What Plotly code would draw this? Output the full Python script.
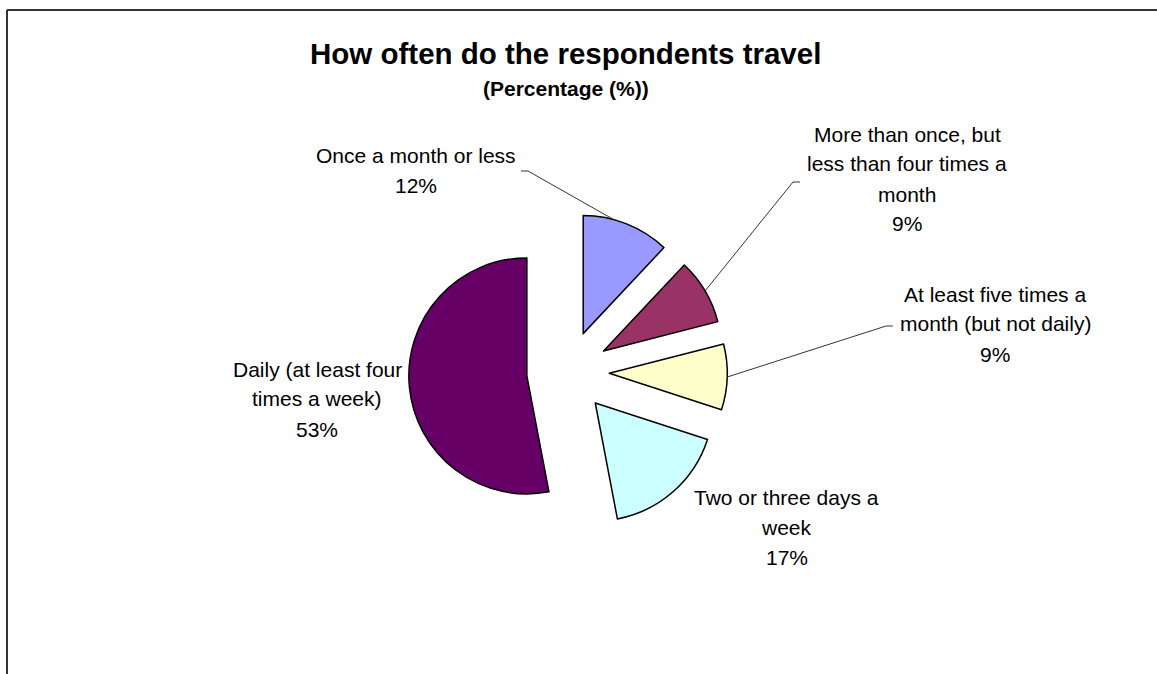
import math
import plotly.graph_objects as go

# Survey answers, in clockwise order starting at 12 o'clock
categories = [
    "Once a month or less",
    "More than once, but less than four times a month",
    "At least five times a month (but not daily)",
    "Two or three days a week",
    "Daily (at least four times a week)",
]
shares = [12, 9, 9, 17, 53]

# Wrapped label text for each slice
label_lines = [
    ["Once a month or less"],
    ["More than once, but", "less than four times a", "month"],
    ["At least five times a", "month (but not daily)"],
    ["Two or three days a", "week"],
    ["Daily (at least four", "times a week)"],
]
colors = ["#9999FF", "#993366", "#FFFFCC", "#CCFFFF", "#660066"]

W, H = 1157, 674
PULL = 0.35
DOM_X = [0.3532, 0.6286]
DOM_Y = [0.2117, 0.6844]
FONT = "Liberation Sans, Arial, sans-serif"
LINE_PITCH = 30

fig = go.Figure(
    go.Pie(
        labels=categories,
        values=shares,
        sort=False,
        direction="clockwise",
        rotation=0,
        pull=PULL,
        textinfo="none",
        hoverinfo="label+percent",
        marker=dict(colors=colors, line=dict(color="black", width=1.5)),
        domain=dict(x=DOM_X, y=DOM_Y),
        showlegend=False,
    )
)

# Pie geometry in pixels (same rule plotly.js uses to size a pulled pie)
box_w = W * (DOM_X[1] - DOM_X[0])
box_h = H * (DOM_Y[1] - DOM_Y[0])
cx = W * (DOM_X[0] + DOM_X[1]) / 2
cy = H * (1 - (DOM_Y[0] + DOM_Y[1]) / 2)
radius = min(box_w, box_h) / 2 / (1 + PULL)


def px_to_paper(x, y):
    return x / W, 1 - y / H


def polar(angle_deg, dist, ox, oy):
    a = math.radians(angle_deg)
    return ox + dist * math.sin(a), oy - dist * math.cos(a)


total = sum(shares)
starts, spans = [], []
acc = 0.0
for v in shares:
    starts.append(acc / total * 360)
    spans.append(v / total * 360)
    acc += v

# Label placement: centre x and centre y of the first text line, in pixels
label_pos = [(416, 155), (907, 134), (995, 294), (787, 497), (317, 369)]
# Leader lines: (fraction along the slice arc, elbow point, label end)
leaders = {
    0: (0.35, (528, 171), (521, 171)),
    1: (0.5, (793, 182), (800, 182)),
    2: (0.5, (886, 326), (893, 326)),
}

annotations = []
shapes = []
for i, (lines, v) in enumerate(zip(label_lines, shares)):
    lx, ly = label_pos[i]
    for k, line in enumerate(lines + [f"{v}%"]):
        px, py = px_to_paper(lx, ly + k * LINE_PITCH)
        annotations.append(
            dict(
                text=line, x=px, y=py, xref="paper", yref="paper",
                xanchor="center", yanchor="middle", showarrow=False,
                font=dict(family=FONT, size=21, color="black"),
            )
        )
    if i in leaders:
        frac, elbow, end = leaders[i]
        mid = starts[i] + spans[i] / 2
        ax, ay = polar(mid, PULL * radius, cx, cy)
        tx, ty = polar(starts[i] + spans[i] * frac, radius, ax, ay)
        pts = [px_to_paper(tx, ty), px_to_paper(*elbow), px_to_paper(*end)]
        path = "M {} {} L {} {} L {} {}".format(*[c for p in pts for c in p])
        shapes.append(
            dict(type="path", path=path, xref="paper", yref="paper",
                 line=dict(color="#333333", width=1))
        )

# Chart titles
tx, ty = px_to_paper(565, 54)
annotations.append(
    dict(text="<b>How often do the respondents travel</b>", x=tx, y=ty,
         xref="paper", yref="paper", xanchor="center", yanchor="middle",
         showarrow=False, font=dict(family=FONT, size=29.5, color="black"))
)
sx, sy = px_to_paper(566, 89)
annotations.append(
    dict(text="<b>(Percentage (%))</b>", x=sx, y=sy,
         xref="paper", yref="paper", xanchor="center", yanchor="middle",
         showarrow=False, font=dict(family=FONT, size=21, color="black"))
)

# Chart-area frame (top and left edges)
bx, by = px_to_paper(7, 10)
frame = dict(color="#333333", width=2)
shapes.append(dict(type="line", xref="paper", yref="paper", x0=bx, y0=by, x1=1, y1=by, line=frame))
shapes.append(dict(type="line", xref="paper", yref="paper", x0=bx, y0=by, x1=bx, y1=0, line=frame))

fig.update_layout(
    width=W, height=H,
    margin=dict(l=0, r=0, t=0, b=0),
    paper_bgcolor="white", plot_bgcolor="white",
    annotations=annotations, shapes=shapes,
    font=dict(family=FONT),
)

fig.write_html("out.html")
